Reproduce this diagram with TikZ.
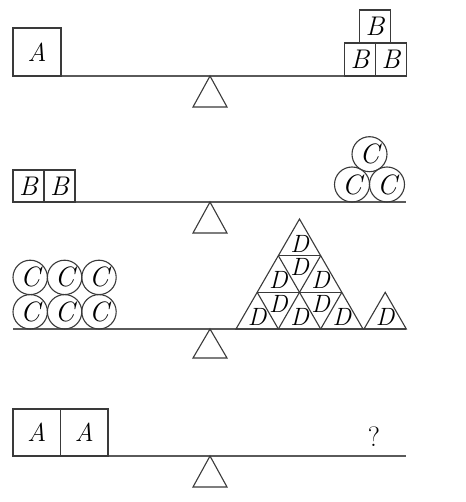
\documentclass[tikz,border=0pt]{standalone}
\usepackage{fontspec}
\definecolor{ink}{HTML}{3A3A3A}
\definecolor{beamgray}{HTML}{5A5A5A}
\begin{document}
\begin{tikzpicture}[x=1pt,y=-1pt,
  beam/.style={draw=beamgray,line width=1.3pt},
  fulcrum/.style={draw=ink,line width=1.1pt,line join=miter},
  blk/.style={draw=ink,line width=1.1pt,inner sep=0pt,outer sep=0pt},
  blkA/.style={blk,minimum width=48pt,minimum height=48pt,font=\fontsize{26}{26}\selectfont\itshape},
  blkB/.style={blk,minimum width=31pt,minimum height=33pt,font=\fontsize{27}{27}\selectfont\itshape},
  disc/.style={circle,draw=ink,line width=1.1pt,inner sep=0pt,outer sep=0pt,minimum size=#1,font=\fontsize{28}{28}\selectfont\itshape},
  lbl/.style={inner sep=0pt,font=\fontsize{25}{25}\selectfont\itshape},
  tri/.style={draw=ink,line width=1.1pt,line join=miter}
]
\useasboundingbox[fill=white] (0,0) rectangle (465,502);

% ---------- Row 1 ----------
\coordinate (b1l) at (13,76); \coordinate (b1r) at (406,76);
\draw[beam] (b1l) -- (b1r);
\coordinate (f1) at (210,76);
\draw[fulcrum] (f1) -- ++(17,31) -- ++(-34,0) -- cycle;
\node[blkA] (a1) at (37,52) {A};
\node[blkB] (b11) at (360,59.5) {B};
\node[blkB] (b12) at (391,59.5) {B};
\node[blkB] (b13) at (375,26.5) {B};

% ---------- Row 2 ----------
\coordinate (b2l) at (13,202); \coordinate (b2r) at (406,202);
\draw[beam] (b2l) -- (b2r);
\coordinate (f2) at (210,202);
\draw[fulcrum] (f2) -- ++(17,31) -- ++(-34,0) -- cycle;
\node[blkB,minimum height=32pt] (b21) at (28.5,186) {B};
\node[blkB,minimum height=32pt] (b22) at (59.5,186) {B};
\node[disc=35pt] (c21) at (352,184.5) {C};
\node[disc=35pt] (c22) at (387,184.5) {C};
\node[disc=35pt] (c23) at (369.5,154.2) {C};

% ---------- Row 3 ----------
\coordinate (b3l) at (13,329); \coordinate (b3r) at (406,329);
\draw[beam] (b3l) -- (b3r);
\coordinate (f3) at (210,329);
\draw[fulcrum] (f3) -- ++(17,29) -- ++(-34,0) -- cycle;
\foreach \i/\x in {1/30.2,2/64.6,3/99.0}{
  \node[disc=34.4pt] (ct\i) at (\x,277.4) {C};
  \node[disc=34.4pt] (cb\i) at (\x,311.8) {C};
}
% big triangle of D's (side 127, 3 rows)
\coordinate (T0) at (299.5,219);
\coordinate (L0) at (236,329);
\coordinate (R0) at (363,329);
\draw[tri] (L0) -- (T0) -- (R0) -- cycle;
\draw[tri] (278.33,255.66) -- (320.67,255.66);
\draw[tri] (257.17,292.33) -- (341.83,292.33);
\draw[tri] (278.33,255.66) -- (320.67,329);
\draw[tri] (257.17,292.33) -- (278.33,329);
\draw[tri] (320.67,255.66) -- (278.33,329);
\draw[tri] (341.83,292.33) -- (320.67,329);
\node[lbl] (d1) at (299.5,243.6) {D};
\node[lbl] (d2) at (278.33,280.4) {D};
\node[lbl] (d3) at (320.67,280.4) {D};
\node[lbl] (d4) at (299.5,267.4) {D};
\node[lbl] (d5) at (257.17,317.2) {D};
\node[lbl] (d6) at (299.5,317.2) {D};
\node[lbl] (d7) at (341.83,317.2) {D};
\node[lbl] (d8) at (278.33,304.4) {D};
\node[lbl] (d9) at (320.67,304.4) {D};
\coordinate (sT) at (385.2,292.34);
\coordinate (sL) at (364,329);
\coordinate (sR) at (406.3,329);
\draw[tri] (sL) -- (sT) -- (sR) -- cycle;
\node[lbl] (d10) at (385.2,317.2) {D};

% ---------- Row 4 ----------
\coordinate (b4l) at (13,456); \coordinate (b4r) at (406,456);
\draw[beam] (b4l) -- (b4r);
\coordinate (f4) at (210,456);
\draw[fulcrum] (f4) -- ++(17,31) -- ++(-34,0) -- cycle;
\node[blkA,minimum width=47.5pt,minimum height=47pt] (a41) at (36.75,432.5) {A};
\node[blkA,minimum width=47.5pt,minimum height=47pt] (a42) at (84.25,432.5) {A};
\node[inner sep=0pt,font=\fontsize{28}{28}\selectfont] (q) at (374,437) {?};
\end{tikzpicture}
\end{document}
